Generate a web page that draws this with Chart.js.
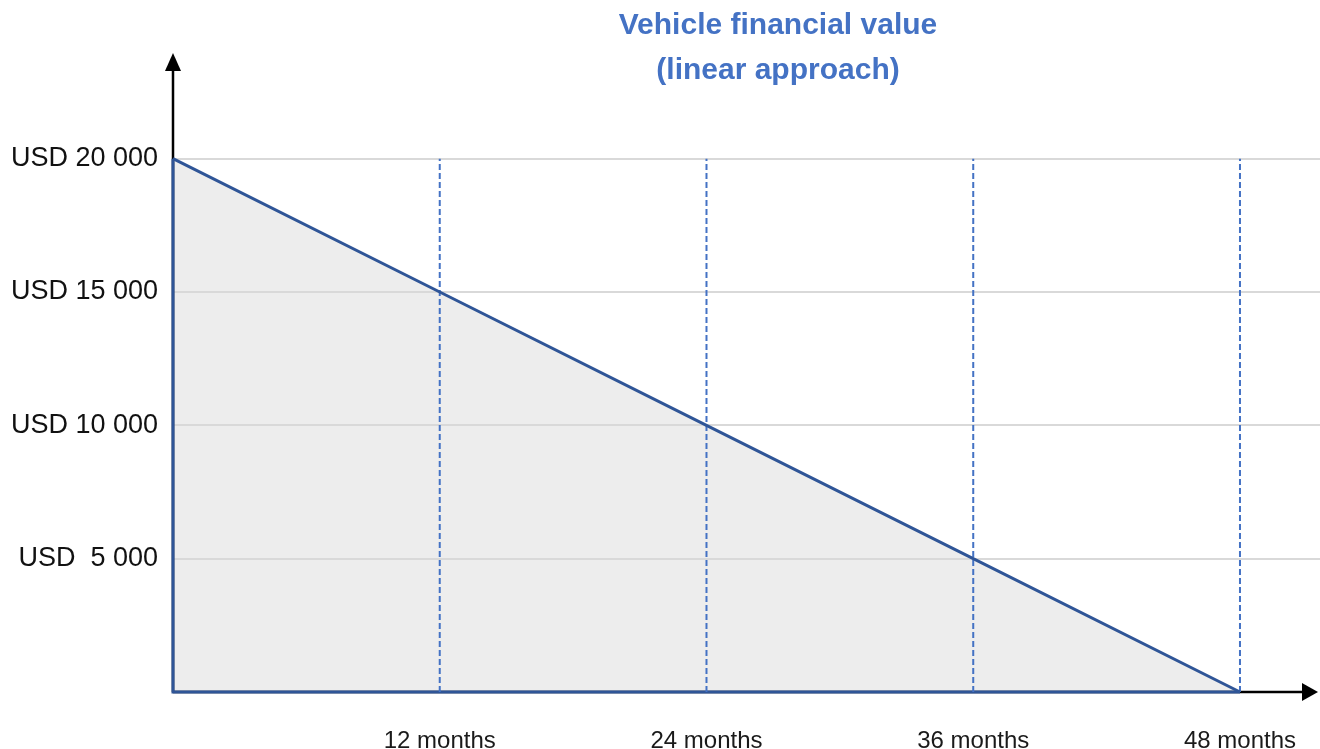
<!DOCTYPE html>
<html>
<head>
<meta charset="utf-8">
<script src="https://cdn.jsdelivr.net/npm/chart.js@4/dist/chart.umd.min.js"></script>
<style>
  html, body { margin: 0; padding: 0; background: #fff; }
  #wrap { width: 1320px; height: 749px; }
</style>
</head>
<body>
<div id="wrap"><canvas id="chart"></canvas></div>
<script>
// values
const months = [0, 12, 24, 36, 48];
const values = [20000, 15000, 10000, 5000, 0];
const xTicks = [12, 24, 36, 48];
const xLabels = ['12 months', '24 months', '36 months', '48 months'];
const yTicks = [5000, 10000, 15000, 20000];
const yLabels = ['USD  5 000', 'USD 10 000', 'USD 15 000', 'USD 20 000'];
const titleLines = ['Vehicle financial value', '(linear approach)'];

const darkBlue = '#2F5597';
const lightBlue = '#4472C4';

const linePts = months.map((m, i) => ({ x: m, y: values[i] }));
const edgePts = [
  { x: months[months.length - 1], y: 0 },
  { x: months[0], y: 0 },
  { x: months[0], y: values[0] }
];

const dashSets = xTicks.map(m => ({
  data: [{ x: m, y: 0 }, { x: m, y: values[0] }],
  showLine: true,
  borderColor: lightBlue,
  borderWidth: 2,
  borderDash: [6, 3],
  pointRadius: 0,
  fill: false,
  clip: false
}));

// black axes with arrows, and the title
const decor = {
  id: 'decor',
  beforeDatasetsDraw(chart) {
    const { ctx, chartArea: a } = chart;
    ctx.save();
    ctx.strokeStyle = '#000';
    ctx.fillStyle = '#000';
    ctx.lineWidth = 2.5;
    ctx.beginPath();
    ctx.moveTo(a.left, a.bottom);
    ctx.lineTo(a.left, a.top + 14);
    ctx.moveTo(a.left, a.bottom);
    ctx.lineTo(a.right - 14, a.bottom);
    ctx.stroke();
    ctx.beginPath();
    ctx.moveTo(a.left, a.top + 1);
    ctx.lineTo(a.left - 8, a.top + 19);
    ctx.lineTo(a.left + 8, a.top + 19);
    ctx.closePath();
    ctx.fill();
    ctx.beginPath();
    ctx.moveTo(a.right - 2, a.bottom);
    ctx.lineTo(a.right - 18, a.bottom - 9);
    ctx.lineTo(a.right - 18, a.bottom + 9);
    ctx.closePath();
    ctx.fill();
    ctx.restore();
  },
  afterDraw(chart) {
    const ctx = chart.ctx;
    ctx.save();
    ctx.fillStyle = lightBlue;
    ctx.font = 'bold 30px "Liberation Sans", Arial, sans-serif';
    ctx.textAlign = 'center';
    ctx.textBaseline = 'middle';
    ctx.fillText(titleLines[0], 778, 26);
    ctx.fillText(titleLines[1], 778, 71);
    ctx.restore();
  }
};

new Chart(document.getElementById('chart'), {
  type: 'scatter',
  data: {
    datasets: [
      {
        data: linePts,
        showLine: true,
        borderColor: darkBlue,
        borderWidth: 3,
        backgroundColor: '#EDEDED',
        fill: 'origin',
        pointRadius: 0,
        clip: false
      },
      ...dashSets,
      {
        data: edgePts,
        showLine: true,
        borderColor: darkBlue,
        borderWidth: 3,
        pointRadius: 0,
        fill: false,
        clip: false
      }
    ]
  },
  options: {
    responsive: true,
    maintainAspectRatio: false,
    animation: false,
    layout: { padding: { top: 52, right: 0, left: 0, bottom: 0 } },
    plugins: {
      legend: { display: false },
      tooltip: { enabled: false },
      filler: { drawTime: 'beforeDraw' }
    },
    scales: {
      x: {
        type: 'linear',
        min: 0,
        max: 51.6,
        grid: { display: false },
        border: { display: false },
        afterBuildTicks: s => { s.ticks = xTicks.map(v => ({ value: v })); },
        afterFit: s => { s.height = 57; s.paddingLeft = 0; s.paddingRight = 0; },
        ticks: {
          padding: 27,
          maxRotation: 0,
          autoSkip: false,
          color: '#1a1a1a',
          font: { family: '"Liberation Sans", Arial, sans-serif', size: 24 },
          callback: v => xLabels[xTicks.indexOf(v)]
        }
      },
      y: {
        min: 0,
        max: 24000,
        grid: { color: '#D9D9D9', lineWidth: 2, drawTicks: false },
        border: { display: false },
        afterBuildTicks: s => { s.ticks = yTicks.map(v => ({ value: v })); },
        afterFit: s => { s.width = 173; },
        ticks: {
          padding: 15,
          autoSkip: false,
          color: '#111',
          font: { family: '"Liberation Sans", Arial, sans-serif', size: 27 },
          callback: v => yLabels[yTicks.indexOf(v)]
        }
      }
    }
  },
  plugins: [decor]
});
</script>
</body>
</html>
